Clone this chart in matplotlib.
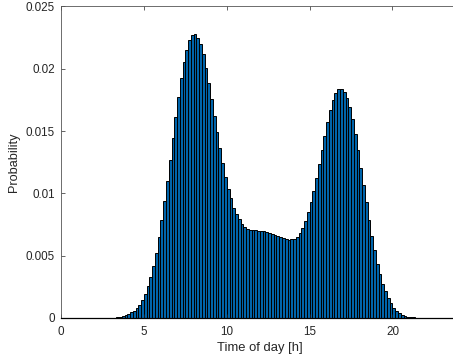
import numpy as np
import matplotlib
matplotlib.use('Agg')
import matplotlib.pyplot as plt

# 10-minute bins over the day (bin width = 1/6 h)
bin_width = 1.0 / 6.0

# probability per bin, bins 0..143
prob = [
    0, 0, 0, 0, 0, 0, 0, 0, 0, 0, 0, 0,                                    # 0-2h
    0, 0, 0, 0, 0, 0.00001, 0.00002, 0.00003, 0.00005, 0.00008, 0.00013, 0.00021,  # 2-4h
    0.00032, 0.00046, 0.00059, 0.00078, 0.00105, 0.00142,                  # 4-5h
    0.00190, 0.00255, 0.00330, 0.00418, 0.00523, 0.00646,                  # 5-6h
    0.00785, 0.00935, 0.01099, 0.01268, 0.01447, 0.01611,                  # 6-7h
    0.01771, 0.01922, 0.02050, 0.02149, 0.02227, 0.02270,                  # 7-8h
    0.02275, 0.02249, 0.02195, 0.02117, 0.02007, 0.01889,                  # 8-9h
    0.01761, 0.01624, 0.01493, 0.01361, 0.01241, 0.01128,                  # 9-10h
    0.01034, 0.00962, 0.00882, 0.00831, 0.00791, 0.00756,                  # 10-11h
    0.00732, 0.00716, 0.00708, 0.00705, 0.00702, 0.00700,                  # 11-12h
    0.00700, 0.00697, 0.00691, 0.00683, 0.00675, 0.00667,                  # 12-13h
    0.00657, 0.00646, 0.00638, 0.00632, 0.00627, 0.00630,                  # 13-14h
    0.00635, 0.00651, 0.00678, 0.00724, 0.00780, 0.00847,                  # 14-15h
    0.00927, 0.01018, 0.01120, 0.01235, 0.01348, 0.01463,                  # 15-16h
    0.01570, 0.01670, 0.01750, 0.01804, 0.01836, 0.01841,                  # 16-17h
    0.01814, 0.01766, 0.01691, 0.01595, 0.01477, 0.01345,                  # 17-18h
    0.01206, 0.01067, 0.00927, 0.00785, 0.00659, 0.00544,                  # 18-19h
    0.00437, 0.00351, 0.00276, 0.00214, 0.00161, 0.00118,                  # 19-20h
    0.00083, 0.00059, 0.00040, 0.00027, 0.00019, 0.00011,                  # 20-21h
    0.00008, 0.00005, 0.00003, 0.00002, 0.00001, 0,                        # 21-22h
    0, 0, 0, 0, 0, 0, 0, 0, 0, 0, 0, 0,                                    # 22-24h
]

xticks = [0, 5, 10, 15, 20]
yticks = [0, 0.005, 0.01, 0.015, 0.02, 0.025]
ytick_labels = ['0', '0.005', '0.01', '0.015', '0.02', '0.025']

plt.rcParams['font.family'] = ['Liberation Sans', 'DejaVu Sans']

fig = plt.figure(figsize=(4.53, 3.64), dpi=100)
ax = fig.add_axes([0.1347, 0.1264, 0.878, 0.856])

edges = np.arange(len(prob)) * bin_width
ax.bar(edges, prob, width=bin_width, align='edge', color='#0064AA',
       edgecolor='black', linewidth=0.7)

ax.set_xlim(0, 24)
ax.set_ylim(0, 0.025)
ax.set_xticks(xticks)
ax.set_xticklabels([str(t) for t in xticks])
ax.set_yticks(yticks)
ax.set_yticklabels(ytick_labels)

ax.tick_params(direction='in', top=True, right=True, length=3, width=0.5,
               labelsize=8.4, colors='#262626')
ax.tick_params(axis='x', pad=6)
ax.tick_params(axis='y', pad=4.5)
for s in ax.spines.values():
    s.set_color('#555555')
    s.set_linewidth(0.6)
ax.spines['bottom'].set_color('black')
ax.spines['bottom'].set_linewidth(0.9)

ax.set_xlabel('Time of day [h]', fontsize=9.4, color='#262626', labelpad=3)
ax.set_ylabel('Probability', fontsize=9.2, color='#262626', labelpad=4)

fig.savefig('out.png', dpi=100)
